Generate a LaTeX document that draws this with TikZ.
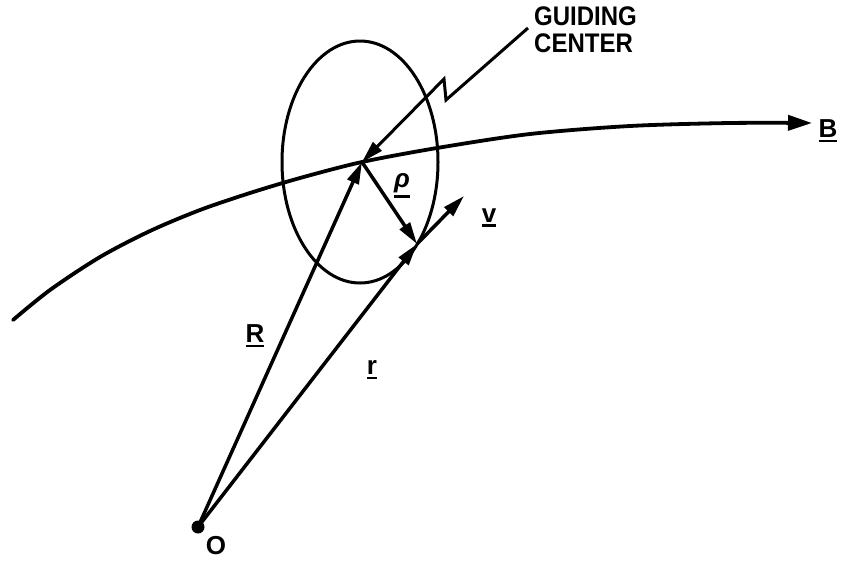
\documentclass[tikz,border=0pt]{standalone}
\usepackage{fontspec}
\setmainfont{Liberation Sans}
\usetikzlibrary{arrows.meta}
\newcommand\myul[1]{\vtop{\hbox{#1}\kern2pt\hrule height 2.8pt}}
\tikzset{
  vec/.style={line width=3.5pt, -{Triangle[length=22pt,width=12pt]}},
  lab/.style={font=\bfseries\fontsize{26}{26}\selectfont, inner sep=0pt},
}
\begin{document}
\begin{tikzpicture}[x=1pt,y=-1pt]
\useasboundingbox (0,0) rectangle (844,560);
\coordinate (O) at (198,527);
\coordinate (G) at (362,162);
\coordinate (P) at (417,244);
\coordinate (V) at (464,196);
\coordinate (Bend) at (812,123);
\coordinate (Z1) at (528,28);
\coordinate (Z2) at (446,100);
\coordinate (Z3) at (444,79);
% field line
\draw[line width=3.8pt, line cap=round, -{Triangle[length=24pt,width=15pt]}]
  plot[smooth, tension=0.5] coordinates {(13,320) (50,290) (100,257) (150,231) (200,210) (250,193) (300,178) (362,162) (437,148) (530,134) (630,126) (730,123) (Bend)};
% orbit
\draw[line width=3pt] (360,162) ellipse [x radius=78, y radius=121];
% vectors
\draw[vec] (O) -- (G);
\draw[vec] (O) -- (P);
\draw[vec] (G) -- (P);
\draw[vec] (P) -- (V);
% pointer
\draw[line width=3pt, line join=miter, -{Triangle[length=22pt,width=12pt]}] (Z1) -- (Z2) -- (Z3) -- (G);
\fill (O) circle (6.5);
% labels
\node[lab, anchor=north west, align=left, font=\bfseries\fontsize{24}{27}\selectfont] (gc) at (534,7) {\scalebox{1}[1.12]{GUIDING}\\\scalebox{1}[1.12]{CENTER}};
\node[lab] (lB) at (828,131) {\myul{B}};
\node[lab] (lrho) at (402,186) {\myul{\itshape ρ}};
\node[lab] (lv) at (489,218) {\myul{v}};
\node[lab] (lR) at (255,336) {\myul{R}};
\node[lab] (lr) at (372,370) {\myul{r}};
\node[lab] (lO) at (216,546) {O};
\end{tikzpicture}
\end{document}
